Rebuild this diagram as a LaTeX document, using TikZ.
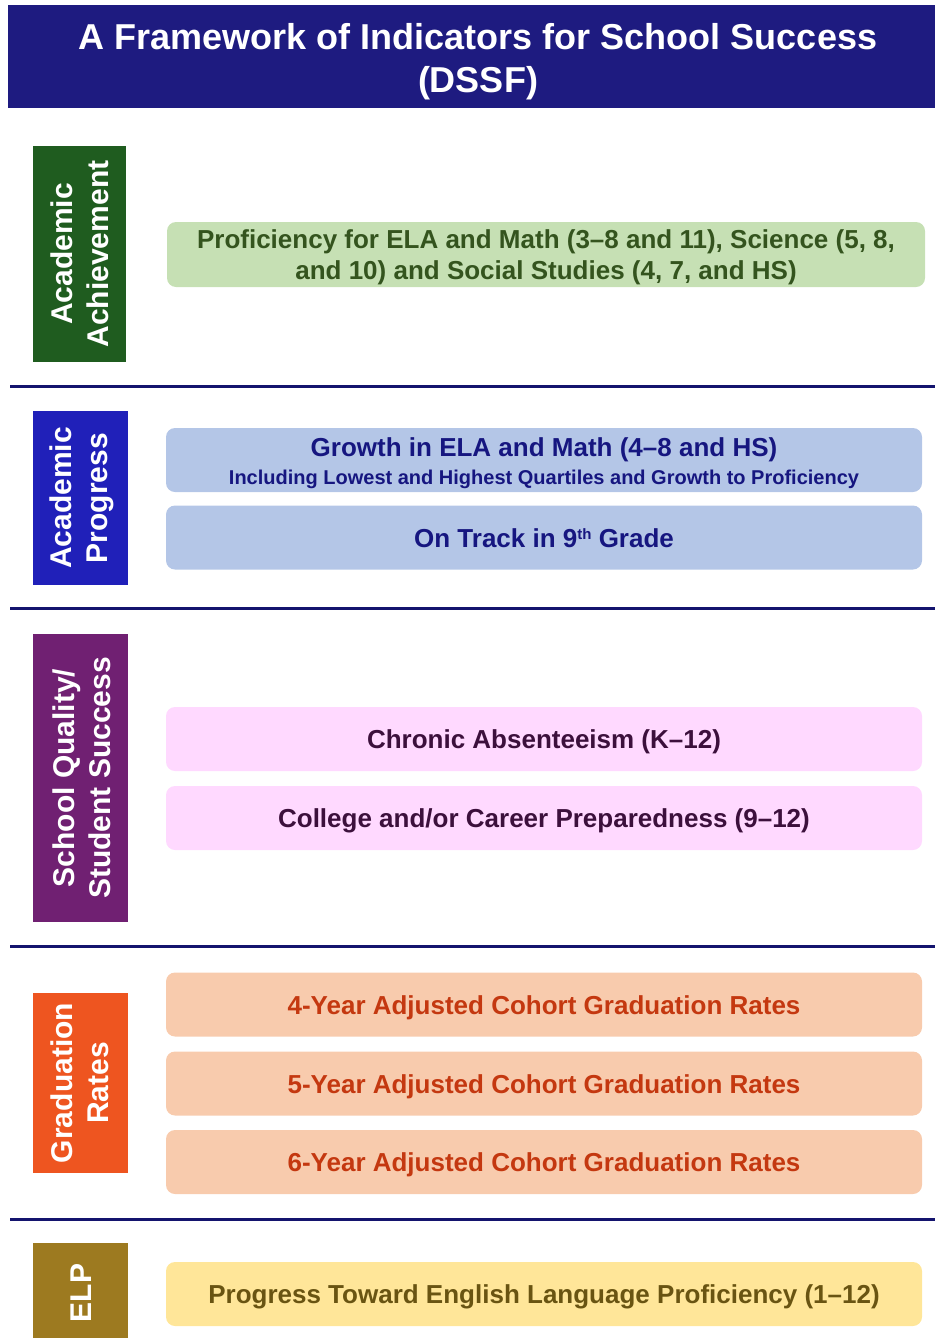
\documentclass[tikz,border=0pt]{standalone}
\usepackage{fontspec}
\setmainfont{Liberation Sans}
\definecolor{navy}{RGB}{30,27,128}
\definecolor{sepcol}{RGB}{20,20,110}
\definecolor{aagreen}{RGB}{31,92,31}
\definecolor{aafill}{RGB}{198,224,180}
\definecolor{aatext}{RGB}{52,84,30}
\definecolor{apblue}{RGB}{32,32,185}
\definecolor{apfill}{RGB}{180,198,231}
\definecolor{aptext}{RGB}{22,22,128}
\definecolor{sqpurple}{RGB}{112,32,114}
\definecolor{sqfill}{RGB}{255,217,255}
\definecolor{sqtext}{RGB}{60,16,60}
\definecolor{grorange}{RGB}{238,85,32}
\definecolor{grfill}{RGB}{248,203,173}
\definecolor{grtext}{RGB}{196,56,16}
\definecolor{elpgold}{RGB}{157,122,32}
\definecolor{elpfill}{RGB}{255,230,153}
\definecolor{elptext}{RGB}{105,84,18}
\newcommand{\supth}{{\fontsize{15}{15}\selectfont\raisebox{8pt}[0pt][0pt]{th}}}
\tikzset{
  labeltext/.style={rotate=90, text=white, align=center, font=\fontsize{30}{36}\selectfont\bfseries},
  itembox/.style={rounded corners=9pt, inner sep=0pt, minimum width=756pt, minimum height=64pt},
  itemtext/.style={inner sep=0pt, align=center, yshift=-3pt, font=\fontsize{26}{31}\selectfont\bfseries},
  sepline/.style={draw=sepcol, line width=3pt},
}
\begin{document}
\begin{tikzpicture}[x=1pt,y=-1pt]
\useasboundingbox (0,0) rectangle (935,1338);
% header
\fill[navy] (8,5) rectangle (935,108);
\node[text=white, align=center, font=\fontsize{36}{43}\selectfont\bfseries] (title) at (478,62) {A Framework of Indicators for School Success\\(DSSF)};
% separators
\draw[sepline] (10,386) -- (935,386);
\draw[sepline] (10,608) -- (935,608);
\draw[sepline] (10,946) -- (935,946);
\draw[sepline] (10,1219) -- (935,1219);
% Section 1
\fill[aagreen] (33,146) rectangle (126,362);
\node[labeltext] (l1) at (80,254) {Academic\\Achievement};
\node[itembox, fill=aafill, minimum width=758pt, minimum height=65pt] (b11) at (546,254.5) {};
\node[itemtext, text=aatext] (t11) at (b11.center) {Proficiency for ELA and Math (3–8 and 11), Science (5, 8,\\and 10) and Social Studies (4, 7, and HS)};
% Section 2
\fill[apblue] (33,411) rectangle (128,585);
\node[labeltext] (l2) at (82,498) {Academic\\Progress};
\node[itembox, fill=apfill] (b21) at (544,460) {};
\node[itemtext, text=aptext] (t21) at (b21.center) {Growth in ELA and Math (4–8 and HS)\\[-3pt]{\fontsize{20}{23}\selectfont Including Lowest and Highest Quartiles and Growth to Proficiency}};
\node[itembox, fill=apfill] (b22) at (544,537.5) {};
\node[itemtext, text=aptext, yshift=2pt] (t22) at (b22.center) {On Track in 9\supth{} Grade};
% Section 3
\fill[sqpurple] (33,634) rectangle (128,922);
\node[labeltext] (l3) at (82,778) {School Quality/\\Student Success};
\node[itembox, fill=sqfill] (b31) at (544,739) {};
\node[itemtext, text=sqtext] (t31) at (b31.center) {Chronic Absenteeism (K–12)};
\node[itembox, fill=sqfill] (b32) at (544,818) {};
\node[itemtext, text=sqtext] (t32) at (b32.center) {College and/or Career Preparedness (9–12)};
% Section 4
\fill[grorange] (33,993) rectangle (128,1173);
\node[labeltext] (l4) at (80,1083) {Graduation\\Rates};
\node[itembox, fill=grfill] (b41) at (544,1004.5) {};
\node[itemtext, text=grtext] (t41) at (b41.center) {4-Year Adjusted Cohort Graduation Rates};
\node[itembox, fill=grfill] (b42) at (544,1083.5) {};
\node[itemtext, text=grtext] (t42) at (b42.center) {5-Year Adjusted Cohort Graduation Rates};
\node[itembox, fill=grfill] (b43) at (544,1162) {};
\node[itemtext, text=grtext] (t43) at (b43.center) {6-Year Adjusted Cohort Graduation Rates};
% Section 5
\fill[elpgold] (33,1243) rectangle (128,1338);
\node[labeltext] (l5) at (81,1293) {ELP};
\node[itembox, fill=elpfill] (b51) at (544,1294) {};
\node[itemtext, text=elptext] (t51) at (b51.center) {Progress Toward English Language Proficiency (1–12)};
\end{tikzpicture}
\end{document}
